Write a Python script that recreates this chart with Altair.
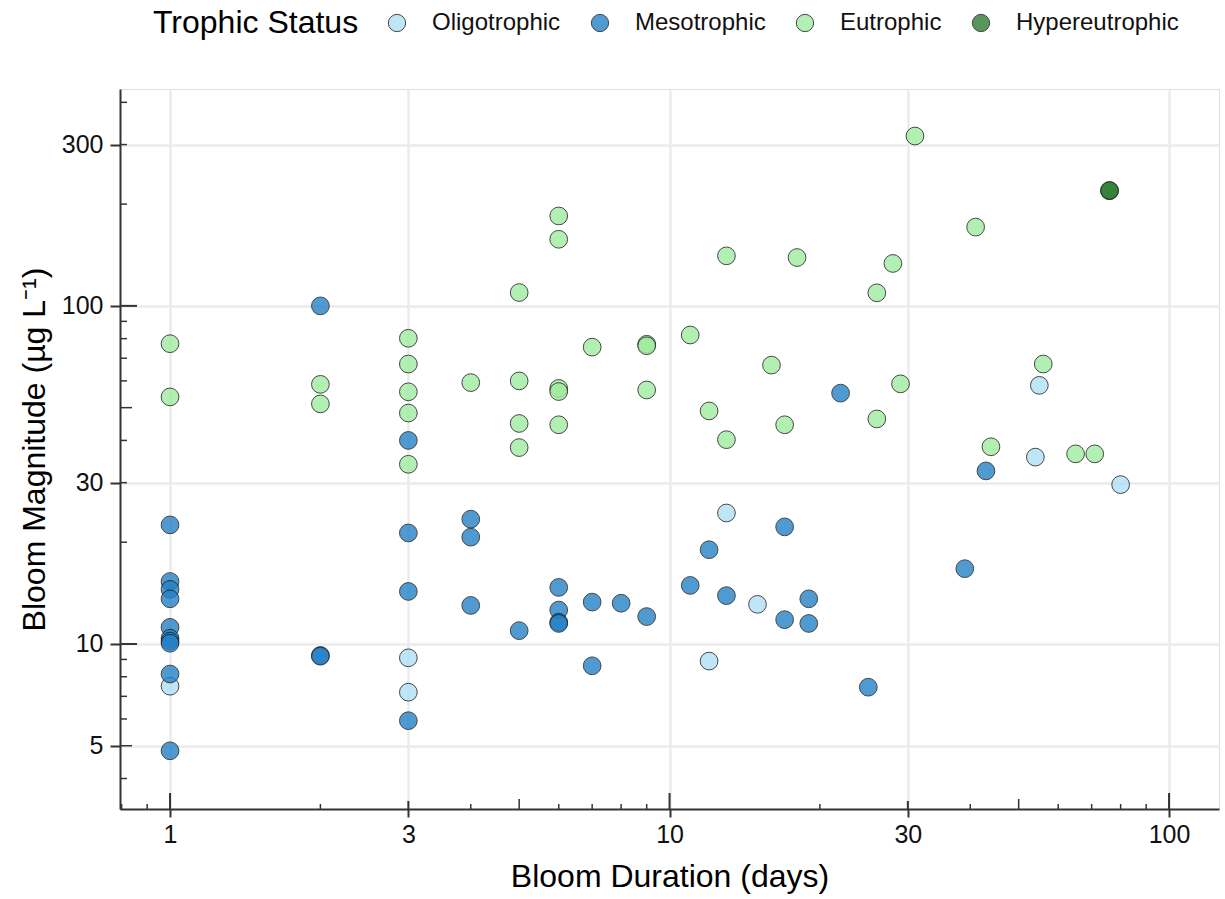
import altair as alt
import pandas as pd

status_order = ["Oligotrophic", "Mesotrophic", "Eutrophic", "Hypereutrophic"]
status_colors = ["#afe0f4", "#2381c6", "#9fec9f", "#2e7e31"]

oligo_duration = [1, 3, 3, 12, 13, 15, 54, 55, 80]
oligo_magnitude = [7.5, 9.1, 7.2, 8.9, 24.4, 13.1, 35.7, 58.2, 29.6]

meso_duration = [1, 1, 1, 1, 1, 1, 1, 1, 1, 1,
                 2, 2, 2,
                 3, 3, 3, 3,
                 4, 4, 4,
                 5,
                 6, 6, 6, 6,
                 7, 7, 8, 9, 11, 12, 13,
                 17, 17, 19, 19, 22, 25, 39, 43]
meso_magnitude = [22.5, 15.3, 14.5, 13.6, 11.2, 10.4, 10.2, 10.05, 8.15, 4.83,
                  100, 9.25, 9.2,
                  40, 21.3, 14.3, 5.93,
                  23.4, 20.7, 13.0,
                  10.95,
                  14.7, 12.6, 11.6, 11.5,
                  13.3, 8.62, 13.2, 12.05, 14.9, 19.0, 13.9,
                  22.2, 11.8, 13.6, 11.5, 55.2, 7.45, 16.7, 32.5]

eu_duration = [1, 1, 2, 2, 3, 3, 3, 3, 3, 4,
               5, 5, 5, 5,
               6, 6, 6, 6, 6,
               7, 9, 9, 9, 11, 12, 13, 13, 16, 17, 18,
               26, 26, 28, 29, 31, 41, 44, 56, 65, 71]
eu_magnitude = [77.3, 53.8, 58.6, 51.3, 80.2, 67.3, 55.7, 48.2, 34.0, 59.3,
                109.5, 60.0, 44.9, 38.1,
                184.5, 157.4, 57.0, 55.8, 44.5,
                75.5, 77.0, 76.2, 56.4, 82.0, 48.9, 140.6, 40.2, 66.8, 44.5, 139.0,
                109.3, 46.3, 133.5, 58.8, 318.0, 171.0, 38.3, 67.3, 36.5, 36.5]

hyper_duration = [76, 76]
hyper_magnitude = [219.0, 219.5]

x_axis_values = [1, 3, 10, 30, 100]
y_axis_values = [5, 10, 30, 100, 300]

# inner tick marks (value lists by tick class)
x_ticks_decade = [1, 10, 100]
x_ticks_five = [5, 50]
x_ticks_three = [3, 30]
x_ticks_minor = [0.8, 0.9, 2, 4, 6, 7, 8, 9, 20, 40, 60, 70, 80, 90]
y_ticks_decade = [10, 100]
y_ticks_five = [5, 50]
y_ticks_minor = [4, 6, 7, 8, 9, 20, 30, 40, 60, 70, 80, 90, 200, 300, 400]

rows = []
for name, xs, ys in [
    ("Oligotrophic", oligo_duration, oligo_magnitude),
    ("Mesotrophic", meso_duration, meso_magnitude),
    ("Eutrophic", eu_duration, eu_magnitude),
    ("Hypereutrophic", hyper_duration, hyper_magnitude),
]:
    for xv, yv in zip(xs, ys):
        rows.append({"duration": xv, "magnitude": yv, "status": name})
df = pd.DataFrame(rows)

W, H = 1099, 720
FONT = "Liberation Sans"
TICK = "#333333"

xscale = alt.Scale(type="log", domain=[0.794, 125.9], nice=False)
yscale = alt.Scale(type="log", domain=[3.25, 438.0], nice=False)

xaxis = alt.Axis(
    values=x_axis_values, format="d", title="Bloom Duration (days)",
    tickSize=8, tickWidth=2, tickColor=TICK,
    domainColor=TICK, domainWidth=2,
    labelFont=FONT, labelFontSize=25, labelColor="#111111", labelPadding=5,
    titleFont=FONT, titleFontSize=32, titleFontWeight="normal", titleColor="#000000",
    titleY=77, titleBaseline="alphabetic",
    grid=True, gridColor="#ebebeb", gridWidth=2.5,
)
yaxis = alt.Axis(
    values=y_axis_values, format="d", title="Bloom Magnitude (µg L⁻¹)",
    tickSize=10, tickWidth=2, tickColor=TICK,
    domainColor=TICK, domainWidth=2,
    labelFont=FONT, labelFontSize=25, labelColor="#111111", labelPadding=7,
    titleFont=FONT, titleFontSize=32, titleFontWeight="normal", titleColor="#000000",
    titleX=-76, titleY=H / 2, titleAngle=270, titleBaseline="alphabetic", titleAlign="center",
    grid=True, gridColor="#ebebeb", gridWidth=2.5,
)

x_enc = alt.X("duration:Q", scale=xscale, axis=xaxis)
y_enc = alt.Y("magnitude:Q", scale=yscale, axis=yaxis)


def x_inner(vals, length, width):
    return alt.Chart(pd.DataFrame({"duration": vals})).mark_rule(
        color=TICK, strokeWidth=width
    ).encode(x=x_enc, y=alt.value(H), y2=alt.value(H - length))


def y_inner(vals, length, width):
    return alt.Chart(pd.DataFrame({"magnitude": vals})).mark_rule(
        color=TICK, strokeWidth=width
    ).encode(y=y_enc, x=alt.value(0), x2=alt.value(length))


points = alt.Chart(df).mark_circle(
    size=314, opacity=0.8, stroke="#1a1a1a", strokeWidth=1
).encode(
    x=x_enc,
    y=y_enc,
    color=alt.Color(
        "status:N",
        scale=alt.Scale(domain=status_order, range=status_colors),
        legend=alt.Legend(
            title="Trophic Status", orient="none", legendX=33, legendY=-78,
            direction="horizontal", titleOrient="left",
            titleFont=FONT, titleFontSize=32, titleFontWeight="normal", titleColor="#000000",
            titleBaseline="middle", titlePadding=26, titleLimit=600,
            labelFont=FONT, labelFontSize=24, labelColor="#111111", labelOffset=23,
            labelLimit=600,
            symbolType="circle", symbolSize=300, symbolStrokeColor="#1a1a1a",
            symbolStrokeWidth=1, columnPadding=27,
        ),
    ),
)

chart = alt.layer(
    x_inner(x_ticks_minor, 5, 1.5),
    x_inner(x_ticks_three, 8, 2),
    x_inner(x_ticks_five, 10, 1.5),
    x_inner(x_ticks_decade, 16, 2),
    y_inner(y_ticks_minor, 7, 1.5),
    y_inner(y_ticks_five, 12, 1.5),
    y_inner(y_ticks_decade, 17, 2),
    points,
).properties(
    width=W, height=H,
    autosize=alt.AutoSizeParams(type="none"),
    padding={"left": 120, "top": 89, "right": 6, "bottom": 90},
).configure_view(
    stroke="#3a3a3a", strokeWidth=2
).configure(background="white")

chart.save("out.html", embed_options={"renderer": "svg", "actions": False})
